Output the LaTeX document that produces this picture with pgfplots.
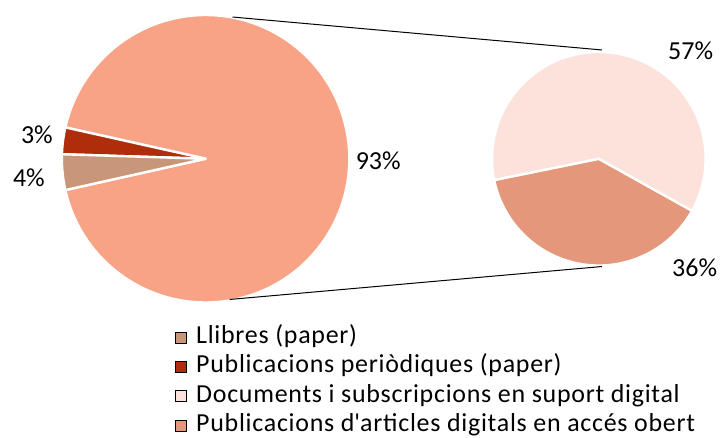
\documentclass[border=0pt]{standalone}
\usepackage{pgfplots}
\pgfplotsset{compat=1.18}
\usepackage{fontspec}
\setmainfont{Carlito}

\definecolor{cBig}{HTML}{F8A385}
\definecolor{cLlib}{HTML}{C8977A}
\definecolor{cPer}{HTML}{AE2E0C}
\definecolor{cDoc}{HTML}{FDE1DB}
\definecolor{cArt}{HTML}{E4977A}

% cx, cy, r, start angle, end angle, colour
\newcommand{\pieslice}[6]{%
  \fill[#6, draw=white, line width=2.4pt, line join=round]
    (axis cs:#1,#2) -- ++(#4:#3pt) arc[start angle=#4, end angle=#5, radius=#3pt] -- cycle;}

% data (percent of total)
\def\vLlib{4}
\def\vPer{3}
\def\vDig{93}
\def\vDoc{57}
\def\vArt{36}

\begin{document}
\begin{tikzpicture}
\begin{axis}[
  scale only axis, width=722pt, height=431pt,
  xmin=0, xmax=722, ymin=0, ymax=431,
  hide axis, clip=false,
  legend image code/.code={\fill[#1] (0pt,-5.5pt) rectangle (11pt,5.5pt);},
  legend cell align=left,
  legend style={at={(axis cs:175,109)}, anchor=north west, draw=none, fill=none,
    font=\fontsize{26}{30}\selectfont\addfontfeatures{LetterSpace=2.8}, inner sep=0pt, row sep=5.3pt,
    nodes={inner sep=0pt, text height=18pt, text depth=6pt},
    /tikz/every odd column/.append style={column sep=10pt}},
]
\path (rel axis cs:0,0) rectangle (rel axis cs:1,1);
\pgfmathsetmacro{\aA}{180-(\vLlib+\vPer)*3.6/2}
\pgfmathsetmacro{\aB}{\aA+\vPer*3.6}
\pgfmathsetmacro{\aC}{\aB+\vLlib*3.6}
\pgfmathsetmacro{\aD}{\aC+\vDig*3.6}
\pieslice{206}{276}{144}{\aC}{\aD}{cBig}
\pieslice{206}{276}{144}{\aA}{\aB}{cPer}
\pieslice{206}{276}{144}{\aB}{\aC}{cLlib}
\pgfmathsetmacro{\bA}{191.5}
\pgfmathsetmacro{\bB}{\bA+\vArt/(\vDoc+\vArt)*360}
\pgfmathsetmacro{\bC}{\bB+\vDoc/(\vDoc+\vArt)*360}
\pieslice{600}{276}{107}{\bA}{\bB}{cArt}
\pieslice{600}{276}{107}{\bB}{\bC}{cDoc}
\draw[black, line width=1pt] (axis cs:233,418) -- (axis cs:603,385);
\draw[black, line width=1pt] (axis cs:230,135) -- (axis cs:603,168);
\begin{scope}[every node/.style={font=\fontsize{26}{30}\selectfont, text=black}]
\node at (axis cs:379,274) {\vDig\%};
\node at (axis cs:37,300) {\vPer\%};
\node at (axis cs:29,257) {\vLlib\%};
\node at (axis cs:692,384) {\vDoc\%};
\node at (axis cs:696,167) {\vArt\%};
\end{scope}
\addlegendimage{fill=cLlib}
\addlegendentry{Llibres (paper)}
\addlegendimage{fill=cPer}
\addlegendentry{Publicacions periòdiques (paper)}
\addlegendimage{fill=cDoc}
\addlegendentry{Documents i subscripcions en suport digital}
\addlegendimage{fill=cArt}
\addlegendentry{Publicacions d\textquotesingle articles digitals en accés obert}
\end{axis}
\end{tikzpicture}
\end{document}
